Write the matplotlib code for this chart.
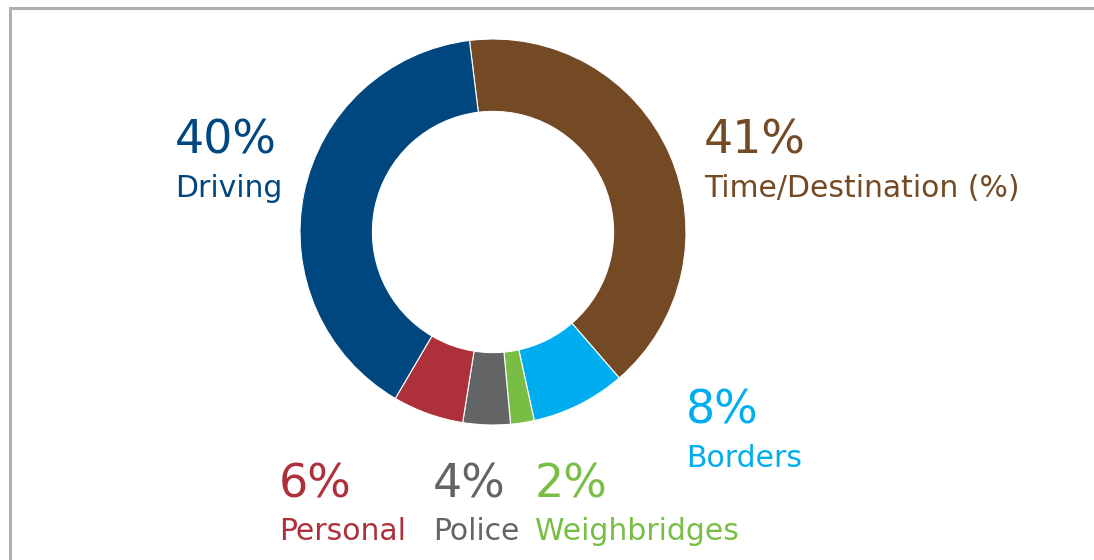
import matplotlib
matplotlib.use("Agg")
import matplotlib.pyplot as plt
from matplotlib.lines import Line2D

# data (clockwise from the top)
categories = ['Time/Destination (%)', 'Borders', 'Weighbridges', 'Police', 'Personal', 'Driving']
shares = [41, 8, 2, 4, 6, 40]
colors = ['#744A24', '#00AEEF', '#78BE44', '#636466', '#AD303B', '#00467F']

# label anchor (left x, baseline of the percent line) in pixels from top-left
label_pos = {
    'Time/Destination (%)': (704, 154),
    'Borders': (686, 424),
    'Weighbridges': (535, 497),
    'Police': (433, 497),
    'Personal': (279, 497),
    'Driving': (175, 154),
}

W, H = 1094, 560
fig = plt.figure(figsize=(W / 100, H / 100), dpi=100)

# donut: centre (493, 232), outer radius 193 px
cx, cy, r = 493, 232, 193
ax = fig.add_axes([(cx - r) / W, (H - cy - r) / H, 2 * r / W, 2 * r / H])
ax.pie(shares, colors=colors, startangle=97, counterclock=False, radius=1,
       wedgeprops=dict(width=0.375, edgecolor='white', linewidth=0.8))
ax.set_xlim(-1, 1)
ax.set_ylim(-1, 1)
ax.set_aspect('equal')
ax.axis('off')

# labels
for name, val, col in zip(categories, shares, colors):
    x, y = label_pos[name]
    fig.text(x / W, 1 - y / H, f'{val}%', color=col, fontsize=33,
             ha='left', va='baseline', family='DejaVu Sans')
    fig.text(x / W, 1 - (y + 43) / H, name, color=col, fontsize=21.5,
             ha='left', va='baseline', family='DejaVu Sans')

# grey frame on top and left
fig.add_artist(Line2D([10 / W, 1], [1 - 8 / H, 1 - 8 / H], transform=fig.transFigure,
                      color='#B0B0B0', linewidth=2.2))
fig.add_artist(Line2D([10 / W, 10 / W], [0, 1 - 8 / H], transform=fig.transFigure,
                      color='#B0B0B0', linewidth=2.2))

fig.savefig('out.png', dpi=100, facecolor='white')
